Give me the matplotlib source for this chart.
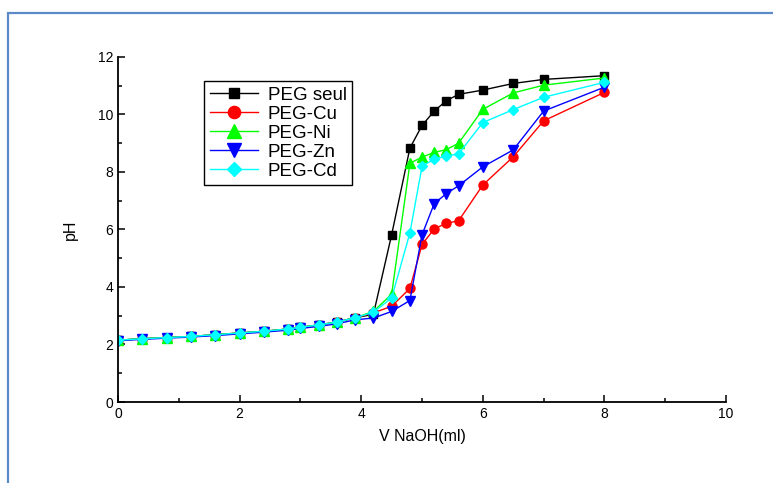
import matplotlib
matplotlib.use("Agg")
import matplotlib.pyplot as plt
from matplotlib.patches import Rectangle
from matplotlib.ticker import MultipleLocator

plt.rcParams["font.family"] = ["Liberation Sans", "DejaVu Sans"]

# volume de NaOH ajoute (ml)
v_naoh = [0, 0.4, 0.8, 1.2, 1.6, 2.0, 2.4, 2.8, 3.0, 3.3, 3.6, 3.9,
          4.2, 4.5, 4.8, 5.0, 5.2, 5.4, 5.6, 6.0, 6.5, 7.0, 8.0]

# pH
ph_seul = [2.15, 2.2, 2.24, 2.28, 2.34, 2.4, 2.46, 2.54, 2.6, 2.68, 2.78, 2.93,
           3.05, 5.82, 8.83, 9.62, 10.12, 10.48, 10.7, 10.85, 11.08, 11.22, 11.35]
ph_cu = [2.15, 2.2, 2.24, 2.28, 2.34, 2.4, 2.46, 2.54, 2.6, 2.68, 2.78, 2.93,
         3.1, 3.33, 3.95, 5.48, 6.02, 6.22, 6.3, 7.55, 8.53, 9.78, 10.77]
ph_ni = [2.15, 2.2, 2.24, 2.28, 2.34, 2.4, 2.46, 2.54, 2.6, 2.68, 2.78, 2.93,
         3.15, 3.75, 8.3, 8.52, 8.68, 8.78, 9.0, 10.18, 10.75, 11.02, 11.27]
ph_zn = [2.13, 2.18, 2.22, 2.26, 2.31, 2.37, 2.43, 2.5, 2.56, 2.63, 2.72, 2.86,
         2.92, 3.15, 3.53, 5.82, 6.9, 7.25, 7.52, 8.18, 8.77, 10.12, 10.95]
ph_cd = [2.15, 2.2, 2.24, 2.28, 2.34, 2.4, 2.46, 2.54, 2.6, 2.68, 2.78, 2.93,
         3.12, 3.62, 5.88, 8.2, 8.45, 8.55, 8.63, 9.72, 10.17, 10.6, 11.12]

series = [
    ("PEG seul", ph_seul, "black", "s", 5.5),
    ("PEG-Cu", ph_cu, "#ff0000", "o", 6.5),
    ("PEG-Ni", ph_ni, "#00ff00", "^", 7),
    ("PEG-Zn", ph_zn, "#0000ff", "v", 7),
    ("PEG-Cd", ph_cd, "#00ffff", "D", 5.5),
]

fig = plt.figure(figsize=(7.73, 4.83), dpi=100)
ax = fig.add_axes([0.1527, 0.1677, 0.7866, 0.7143])

for label, ph, col, mk, ms in series:
    ax.plot(v_naoh, ph, color=col, marker=mk, markersize=ms, linewidth=1,
            label=label)

ax.set_xlim(0, 10)
ax.set_ylim(0, 12)
ax.xaxis.set_major_locator(MultipleLocator(2))
ax.xaxis.set_minor_locator(MultipleLocator(1))
ax.yaxis.set_major_locator(MultipleLocator(2))
ax.yaxis.set_minor_locator(MultipleLocator(1))
ax.tick_params(which="both", direction="in", width=1.1, labelsize=10)
ax.tick_params(which="major", length=5)
ax.tick_params(which="minor", length=3)
ax.spines["top"].set_visible(False)
ax.spines["right"].set_visible(False)
ax.spines["left"].set_linewidth(1.3)
ax.spines["bottom"].set_linewidth(1.3)

ax.set_xlabel("V NaOH(ml)", fontsize=11.5, labelpad=6)
ax.set_ylabel("pH", fontsize=11.5, labelpad=14)

leg = ax.legend(loc="upper left", bbox_to_anchor=(0.1414, 0.931),
                borderaxespad=0, fontsize=13.5, fancybox=False, edgecolor="black",
                framealpha=1, handlelength=2.6, handletextpad=0.5,
                labelspacing=0.1, borderpad=0.3, markerscale=1.35)
leg.get_frame().set_linewidth(1)

# cadre bleu autour de la figure
fig.patches.append(Rectangle((8 / 773, -0.1), 1.2, 1.0 + 0.1 - 13 / 483,
                             transform=fig.transFigure, fill=False,
                             edgecolor="#5b8ac8", linewidth=1.6))

plt.savefig("out.png", dpi=100)
